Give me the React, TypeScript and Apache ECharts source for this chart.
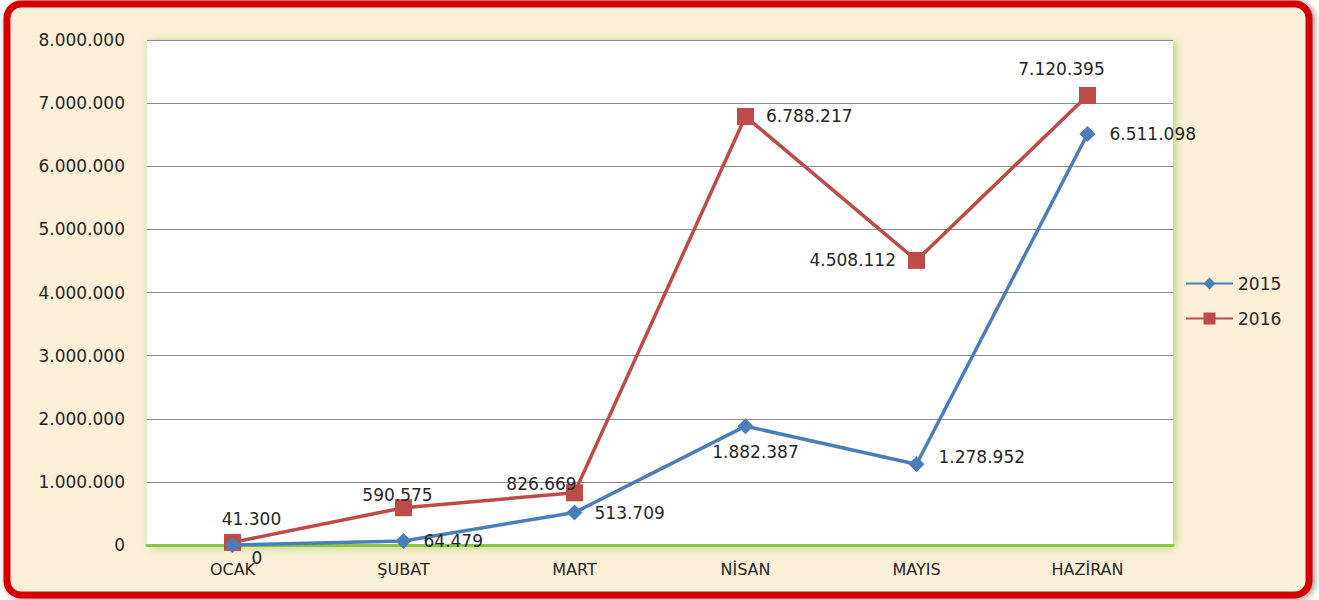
import React, { useEffect, useRef } from "react";
import * as echarts from "echarts";

const categories = ["OCAK", "ŞUBAT", "MART", "NİSAN", "MAYIS", "HAZİRAN"];
const values2015 = [0, 64479, 513709, 1882387, 1278952, 6511098];
const values2016 = [41300, 590575, 826669, 6788217, 4508112, 7120395];
const seriesNames = ["2015", "2016"];

const fmt = (v: number) => String(Math.round(v)).replace(/\B(?=(\d{3})+(?!\d))/g, ".");

const labelStyle2015: any[] = [
  { position: "right", offset: [6, 13] },
  { position: "right", distance: 12 },
  { position: "right", distance: 12 },
  { position: "bottom", distance: 9, offset: [10, 0] },
  { position: "right", distance: 14, offset: [0, -7] },
  { position: "right", distance: 14 },
];
const labelStyle2016: any[] = [
  { position: "top", distance: 6, offset: [19, 0] },
  { position: "top", distance: 0, offset: [-6, 4] },
  { position: "top", distance: 0, offset: [-33, 8] },
  { position: "right", distance: 12 },
  { position: "left", distance: 12 },
  { position: "top", distance: 10, offset: [-26, 0] },
];

const FONT = "DejaVu Sans";
const TXT = "#262626";

export default function App() {
  const ref = useRef<HTMLDivElement>(null);
  useEffect(() => {
    document.body.style.margin = "0";
    const chart = echarts.init(ref.current!, null, { renderer: "svg" });
    const mk = (vals: number[], styles: any[]) =>
      vals.map((v, i) => ({
        value: v,
        label: { show: true, ...styles[i] },
      }));
    chart.setOption({
      animation: false,
      backgroundColor: "#ffffff",
      graphic: [
        {
          type: "rect",
          z: -10,
          silent: true,
          shape: { x: 7, y: 4, width: 1302, height: 591, r: 14 },
          style: {
            fill: "#fcf0d9",
            stroke: "#d40606",
            lineWidth: 7,
            shadowBlur: 6,
            shadowColor: "rgba(0,0,0,0.45)",
            shadowOffsetX: 2,
            shadowOffsetY: 1,
          },
        },
      ],
      grid: {
        left: 147,
        right: 146,
        top: 40,
        bottom: 55,
        show: true,
        backgroundColor: "#ffffff",
        borderWidth: 0,
        shadowColor: "rgba(140,200,70,0.75)",
        shadowBlur: 8,
        shadowOffsetX: 2,
        shadowOffsetY: 2,
      },
      legend: {
        orient: "vertical",
        left: 1180,
        top: 270,
        itemWidth: 47,
        itemHeight: 15,
        itemGap: 18,
        textStyle: { fontFamily: FONT, fontSize: 17, color: TXT },
        data: seriesNames,
      },
      xAxis: {
        type: "category",
        data: categories,
        boundaryGap: true,
        axisLine: { show: true, lineStyle: { color: "#8cc63f", width: 3 } },
        axisTick: { show: false },
        axisLabel: { margin: 16, fontFamily: FONT, fontSize: 16, color: TXT },
        splitLine: { show: false },
      },
      yAxis: {
        type: "value",
        min: 0,
        max: 8000000,
        interval: 1000000,
        axisLine: { show: false },
        axisTick: { show: false },
        axisLabel: {
          margin: 22,
          fontFamily: FONT,
          fontSize: 17,
          color: TXT,
          formatter: (v: number) => fmt(v),
        },
        splitLine: { show: true, lineStyle: { color: "#8c8c8c", width: 1 } },
      },
      series: [
        {
          name: seriesNames[0],
          type: "line",
          data: mk(values2015, labelStyle2015),
          symbol: "diamond",
          symbolSize: 16,
          itemStyle: { color: "#4a7ebb" },
          lineStyle: { color: "#4a7ebb", width: 3.5 },
          label: {
            fontFamily: FONT,
            fontSize: 17,
            color: TXT,
            formatter: (p: any) => fmt(p.value),
          },
          z: 3,
        },
        {
          name: seriesNames[1],
          type: "line",
          data: mk(values2016, labelStyle2016),
          symbol: "rect",
          symbolSize: 17,
          itemStyle: { color: "#be4b48" },
          lineStyle: { color: "#be4b48", width: 3.5 },
          label: {
            fontFamily: FONT,
            fontSize: 17,
            color: TXT,
            formatter: (p: any) => fmt(p.value),
          },
          z: 2,
        },
      ],
    });
    return () => chart.dispose();
  }, []);
  return <div ref={ref} style={{ width: 1319, height: 600 }} />;
}
